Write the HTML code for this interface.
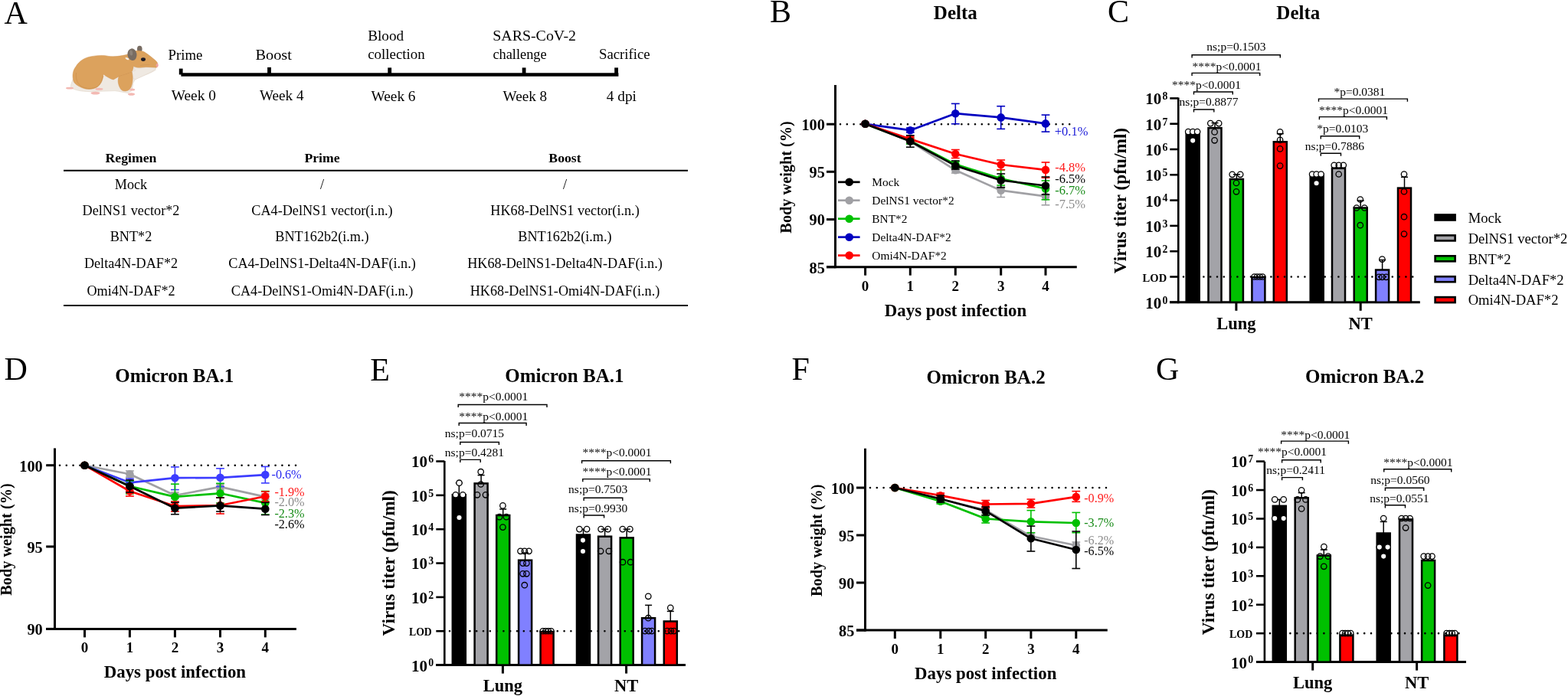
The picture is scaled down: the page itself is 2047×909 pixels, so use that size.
<!DOCTYPE html>
<html><head><meta charset="utf-8"><title>Figure</title>
<style>
html,body{margin:0;padding:0;background:#fff;}
body{width:2047px;height:909px;overflow:hidden;}
svg{display:block;font-family:"Liberation Serif", serif;}
</style></head><body>
<svg width="2047" height="909" viewBox="0 0 2047 909">
<rect width="2047" height="909" fill="#fff"/>
<text x="5.5" y="30.5" font-size="42">A</text>
<g>
<ellipse cx="182.3" cy="64" rx="3.3" ry="4.3" fill="#786c62"/>
<path d="M95.5,103 C93.5,108 91.5,112 93,115 C100,118.5 110,120 122,119.6 L150,118.6 C156,119.2 162,121 167,121.5 L172,118.5 L174,108 L176.5,103.7 C182,101 188,98.5 192,97 C197,95 201,93 203.5,91 L200,89 L174,87 L140,99 Z" fill="#efe9e2" stroke="#e0d5c8" stroke-width="0.6"/>
<path d="M96,106 C94,99 95,92 99,87 C103,80 110,75.5 118,74 C126,72.5 134,71.5 142,73.5 C150,74.5 158,73 165,71.5 C170,69.5 174,67 178.2,66.3 C181,66 184,66.5 186.4,67.1 C189,68 191.5,70 194.1,71.8 C197.5,74.5 201.5,77.5 204,80 C205.5,81.5 206.2,83.5 205.8,85.5 C205.4,87.3 204.5,88.3 203.5,88.8 C199,88.6 195,88 190.8,88 C187,88.3 184,88.8 182,88.8 C179,88.6 176.5,88 174.3,87.2 L172.3,94.2 C165,97 160,99 155,100 L148,104 C144,103 139,100 135,97 C134.5,104 132,110 127,113.5 C122,117 113,117.5 107,114.5 C101,112 97,109 96,106 Z" fill="#dca25d" stroke="#cf9250" stroke-width="0.5"/>
<path d="M99.5,95 C98.5,104 101.5,110 107,113.3 C113,116.3 121,116.3 127,113.3 C131,110.5 133.5,105 134.3,99" fill="none" stroke="#c98a46" stroke-width="1" opacity="0.55"/>
<path d="M174.3,87.2 C176.5,88 179,88.6 182,88.8 C184,88.8 187,88.3 190.8,88 C195,88 199,88.6 203.5,88.8 C203,90 202,91 200.5,92 C197,94.5 192,96.5 188,98.5 C184,100.5 180,102.5 176.5,103.7 L173.8,102 L172.1,93.8 L176.6,92.2 Z" fill="#efe9e2" stroke="#e0d5c8" stroke-width="0.5"/>
<path d="M155.4,99.6 C153.5,104 153.5,110 157.7,116.5 C160,119 163,119.5 166,118.5 C169,117.5 171,115 172,111 C173.5,106 173.5,100 172.3,94.2 C167,96 161,98 155.4,99.6 Z" fill="#dca25d" stroke="#cf9250" stroke-width="0.5"/>
<ellipse cx="166" cy="76.6" rx="2.6" ry="1.2" transform="rotate(25 166 76.6)" fill="#f4efe8"/>
<ellipse cx="172.5" cy="71.2" rx="6" ry="7.9" transform="rotate(-8 172.5 71.2)" fill="#786c62"/>
<ellipse cx="171.2" cy="69" rx="2" ry="3.6" transform="rotate(-8 171.2 69)" fill="#8d8278"/>
<ellipse cx="187" cy="77.6" rx="3" ry="2.4" fill="#1c1c28"/>
<path d="M184.5,74.6 Q187,73.4 189.5,74.6" fill="none" stroke="#c9a070" stroke-width="0.6"/>
<path d="M183,85.5 Q190,84.2 195.5,84.6" fill="none" stroke="#c88f50" stroke-width="0.45"/>
<ellipse cx="205.1" cy="85.2" rx="1.5" ry="2.5" fill="#f0a3a0"/>
<ellipse cx="91" cy="115.2" rx="5" ry="1.4" fill="#f3b9b3"/>
<ellipse cx="124.5" cy="121.6" rx="6" ry="1.9" fill="#f3b9b3"/>
<ellipse cx="129.5" cy="116.3" rx="5" ry="1.5" fill="#f3b9b3"/>
<ellipse cx="172.6" cy="117" rx="3.6" ry="1.6" fill="#f3b9b3"/>
<ellipse cx="171.5" cy="123" rx="4.5" ry="1.8" fill="#f3b9b3"/>
</g>
<line x1="236.4" y1="97.45" x2="807.4" y2="97.45" stroke="#000" stroke-width="4.5"/>
<rect x="233.8" y="89.6" width="4.8" height="7.85" fill="#000"/>
<rect x="349.1" y="87.9" width="4.8" height="9.55" fill="#000"/>
<rect x="506.3" y="88.4" width="4.8" height="9.05" fill="#000"/>
<rect x="681.7" y="88.4" width="4.8" height="9.05" fill="#000"/>
<rect x="802.2" y="88.4" width="4.8" height="9.05" fill="#000"/>
<text x="219.5" y="77.5" font-size="19" textLength="44.89" lengthAdjust="spacingAndGlyphs">Prime</text>
<text x="333.4" y="77.5" font-size="19" textLength="47.5" lengthAdjust="spacingAndGlyphs">Boost</text>
<text x="480.2" y="53.2" font-size="19" textLength="46.9" lengthAdjust="spacingAndGlyphs">Blood</text>
<text x="480.2" y="76.9" font-size="19" textLength="74.5" lengthAdjust="spacingAndGlyphs">collection</text>
<text x="643.2" y="53.2" font-size="19" textLength="108.8" lengthAdjust="spacingAndGlyphs">SARS-CoV-2</text>
<text x="643.4" y="76.9" font-size="19" textLength="70.3" lengthAdjust="spacingAndGlyphs">challenge</text>
<text x="782" y="76.9" font-size="19" textLength="66.7" lengthAdjust="spacingAndGlyphs">Sacrifice</text>
<text x="223.8" y="131.2" font-size="19" textLength="58.01" lengthAdjust="spacingAndGlyphs">Week 0</text>
<text x="339.1" y="131.2" font-size="19" textLength="57.41" lengthAdjust="spacingAndGlyphs">Week 4</text>
<text x="484.6" y="131.9" font-size="19" textLength="57.91" lengthAdjust="spacingAndGlyphs">Week 6</text>
<text x="656.6" y="131.9" font-size="19" textLength="57.61" lengthAdjust="spacingAndGlyphs">Week 8</text>
<text x="791.8" y="131.9" font-size="19" textLength="39.1" lengthAdjust="spacingAndGlyphs">4 dpi</text>
<line x1="83" y1="222.8" x2="898" y2="222.8" stroke="#000" stroke-width="2"/>
<line x1="83" y1="399" x2="898" y2="399" stroke="#000" stroke-width="2"/>
<text x="171" y="212.2" font-size="17.7" text-anchor="middle" font-weight="bold">Regimen</text>
<text x="420.5" y="212.2" font-size="17.7" text-anchor="middle" font-weight="bold">Prime</text>
<text x="737.5" y="212.2" font-size="17.7" text-anchor="middle" font-weight="bold">Boost</text>
<text x="171" y="246.6" font-size="18.2" text-anchor="middle">Mock</text>
<text x="420.5" y="246.6" font-size="18.2" text-anchor="middle">/</text>
<text x="737.5" y="246.6" font-size="18.2" text-anchor="middle">/</text>
<text x="171" y="280.9" font-size="18.2" text-anchor="middle">DelNS1 vector*2</text>
<text x="420.5" y="280.9" font-size="18.2" text-anchor="middle">CA4-DelNS1 vector(i.n.)</text>
<text x="737.5" y="280.9" font-size="18.2" text-anchor="middle">HK68-DelNS1 vector(i.n.)</text>
<text x="171" y="315.2" font-size="18.2" text-anchor="middle">BNT*2</text>
<text x="420.5" y="315.2" font-size="18.2" text-anchor="middle">BNT162b2(i.m.)</text>
<text x="737.5" y="315.2" font-size="18.2" text-anchor="middle">BNT162b2(i.m.)</text>
<text x="171" y="349.6" font-size="18.2" text-anchor="middle">Delta4N-DAF*2</text>
<text x="420.5" y="349.6" font-size="18.2" text-anchor="middle">CA4-DelNS1-Delta4N-DAF(i.n.)</text>
<text x="737.5" y="349.6" font-size="18.2" text-anchor="middle">HK68-DelNS1-Delta4N-DAF(i.n.)</text>
<text x="171" y="386" font-size="18.2" text-anchor="middle">Omi4N-DAF*2</text>
<text x="420.5" y="386" font-size="18.2" text-anchor="middle">CA4-DelNS1-Omi4N-DAF(i.n.)</text>
<text x="737.5" y="386" font-size="18.2" text-anchor="middle">HK68-DelNS1-Omi4N-DAF(i.n.)</text>
<line x1="1079" y1="162.2" x2="1090.5" y2="162.2" stroke="#000" stroke-width="3"/>
<text x="1076.8" y="170" font-size="20.3" text-anchor="end" font-weight="bold">100</text>
<line x1="1079" y1="224.3" x2="1090.5" y2="224.3" stroke="#000" stroke-width="3"/>
<text x="1076.8" y="232.1" font-size="20.3" text-anchor="end" font-weight="bold">95</text>
<line x1="1079" y1="286.6" x2="1090.5" y2="286.6" stroke="#000" stroke-width="3"/>
<text x="1076.8" y="294.4" font-size="20.3" text-anchor="end" font-weight="bold">90</text>
<line x1="1079" y1="348.7" x2="1090.5" y2="348.7" stroke="#000" stroke-width="3"/>
<text x="1076.8" y="356.5" font-size="20.3" text-anchor="end" font-weight="bold">85</text>
<line x1="1090.5" y1="111" x2="1090.5" y2="350.2" stroke="#000" stroke-width="3"/>
<line x1="1079" y1="348.7" x2="1405.8" y2="348.7" stroke="#000" stroke-width="3"/>
<line x1="1129.6" y1="348.7" x2="1129.6" y2="359.7" stroke="#000" stroke-width="3"/>
<text x="1129.6" y="379.5" font-size="19" text-anchor="middle" font-weight="bold">0</text>
<line x1="1188.3" y1="348.7" x2="1188.3" y2="359.7" stroke="#000" stroke-width="3"/>
<text x="1188.3" y="379.5" font-size="19" text-anchor="middle" font-weight="bold">1</text>
<line x1="1247.3" y1="348.7" x2="1247.3" y2="359.7" stroke="#000" stroke-width="3"/>
<text x="1247.3" y="379.5" font-size="19" text-anchor="middle" font-weight="bold">2</text>
<line x1="1306.7" y1="348.7" x2="1306.7" y2="359.7" stroke="#000" stroke-width="3"/>
<text x="1306.7" y="379.5" font-size="19" text-anchor="middle" font-weight="bold">3</text>
<line x1="1365" y1="348.7" x2="1365" y2="359.7" stroke="#000" stroke-width="3"/>
<text x="1365" y="379.5" font-size="19" text-anchor="middle" font-weight="bold">4</text>
<text x="1247.5" y="413.3" font-size="22.85" text-anchor="middle" font-weight="bold">Days post infection</text>
<text x="1033.4" y="231.4" font-size="20.3" text-anchor="middle" font-weight="bold" transform="rotate(-90 1033.4 231.4)">Body weight (%)</text>
<text x="1247.3" y="25" font-size="25" text-anchor="middle" font-weight="bold">Delta</text>
<text x="1005" y="29" font-size="42">B</text>
<line x1="1097" y1="162.2" x2="1402" y2="162.2" stroke="#000" stroke-width="2.6" stroke-linecap="round" stroke-dasharray="0 8.8"/>
<line x1="1188.3" y1="181" x2="1188.3" y2="188" stroke="#a0a0a4" stroke-width="1.6"/>
<line x1="1182.9" y1="181" x2="1193.7" y2="181" stroke="#a0a0a4" stroke-width="1.6"/>
<line x1="1182.9" y1="188" x2="1193.7" y2="188" stroke="#a0a0a4" stroke-width="1.6"/>
<line x1="1247.3" y1="218" x2="1247.3" y2="226" stroke="#a0a0a4" stroke-width="1.6"/>
<line x1="1241.9" y1="218" x2="1252.7" y2="218" stroke="#a0a0a4" stroke-width="1.6"/>
<line x1="1241.9" y1="226" x2="1252.7" y2="226" stroke="#a0a0a4" stroke-width="1.6"/>
<line x1="1306.7" y1="244" x2="1306.7" y2="257.5" stroke="#a0a0a4" stroke-width="1.6"/>
<line x1="1301.3" y1="244" x2="1312.1" y2="244" stroke="#a0a0a4" stroke-width="1.6"/>
<line x1="1301.3" y1="257.5" x2="1312.1" y2="257.5" stroke="#a0a0a4" stroke-width="1.6"/>
<line x1="1365" y1="246" x2="1365" y2="267.8" stroke="#a0a0a4" stroke-width="1.6"/>
<line x1="1359.6" y1="246" x2="1370.4" y2="246" stroke="#a0a0a4" stroke-width="1.6"/>
<line x1="1359.6" y1="267.8" x2="1370.4" y2="267.8" stroke="#a0a0a4" stroke-width="1.6"/>
<polyline points="1129.6,161.8 1188.3,184.5 1247.3,222.3 1306.7,248.7 1365,256.4" fill="none" stroke="#a0a0a4" stroke-width="2.7" stroke-linejoin="round"/>
<circle cx="1129.6" cy="161.8" r="5.3" fill="#a0a0a4"/>
<circle cx="1188.3" cy="184.5" r="5.3" fill="#a0a0a4"/>
<circle cx="1247.3" cy="222.3" r="5.3" fill="#a0a0a4"/>
<circle cx="1306.7" cy="248.7" r="5.3" fill="#a0a0a4"/>
<circle cx="1365" cy="256.4" r="5.3" fill="#a0a0a4"/>
<line x1="1188.3" y1="180" x2="1188.3" y2="188" stroke="#00c000" stroke-width="1.6"/>
<line x1="1182.9" y1="180" x2="1193.7" y2="180" stroke="#00c000" stroke-width="1.6"/>
<line x1="1182.9" y1="188" x2="1193.7" y2="188" stroke="#00c000" stroke-width="1.6"/>
<line x1="1247.3" y1="211" x2="1247.3" y2="219" stroke="#00c000" stroke-width="1.6"/>
<line x1="1241.9" y1="211" x2="1252.7" y2="211" stroke="#00c000" stroke-width="1.6"/>
<line x1="1241.9" y1="219" x2="1252.7" y2="219" stroke="#00c000" stroke-width="1.6"/>
<line x1="1306.7" y1="222" x2="1306.7" y2="242" stroke="#00c000" stroke-width="1.6"/>
<line x1="1301.3" y1="222" x2="1312.1" y2="222" stroke="#00c000" stroke-width="1.6"/>
<line x1="1301.3" y1="242" x2="1312.1" y2="242" stroke="#00c000" stroke-width="1.6"/>
<line x1="1365" y1="236" x2="1365" y2="260.8" stroke="#00c000" stroke-width="1.6"/>
<line x1="1359.6" y1="236" x2="1370.4" y2="236" stroke="#00c000" stroke-width="1.6"/>
<line x1="1359.6" y1="260.8" x2="1370.4" y2="260.8" stroke="#00c000" stroke-width="1.6"/>
<polyline points="1129.6,161.8 1188.3,184 1247.3,214.6 1306.7,233.3 1365,246.5" fill="none" stroke="#00c000" stroke-width="2.7" stroke-linejoin="round"/>
<circle cx="1129.6" cy="161.8" r="5.3" fill="#00c000"/>
<circle cx="1188.3" cy="184" r="5.3" fill="#00c000"/>
<circle cx="1247.3" cy="214.6" r="5.3" fill="#00c000"/>
<circle cx="1306.7" cy="233.3" r="5.3" fill="#00c000"/>
<circle cx="1365" cy="246.5" r="5.3" fill="#00c000"/>
<line x1="1188.3" y1="167" x2="1188.3" y2="173" stroke="#0000c0" stroke-width="1.6"/>
<line x1="1182.9" y1="167" x2="1193.7" y2="167" stroke="#0000c0" stroke-width="1.6"/>
<line x1="1182.9" y1="173" x2="1193.7" y2="173" stroke="#0000c0" stroke-width="1.6"/>
<line x1="1247.3" y1="135.4" x2="1247.3" y2="161.8" stroke="#0000c0" stroke-width="1.6"/>
<line x1="1241.9" y1="135.4" x2="1252.7" y2="135.4" stroke="#0000c0" stroke-width="1.6"/>
<line x1="1241.9" y1="161.8" x2="1252.7" y2="161.8" stroke="#0000c0" stroke-width="1.6"/>
<line x1="1306.7" y1="138.7" x2="1306.7" y2="168.4" stroke="#0000c0" stroke-width="1.6"/>
<line x1="1301.3" y1="138.7" x2="1312.1" y2="138.7" stroke="#0000c0" stroke-width="1.6"/>
<line x1="1301.3" y1="168.4" x2="1312.1" y2="168.4" stroke="#0000c0" stroke-width="1.6"/>
<line x1="1365" y1="150.1" x2="1365" y2="172.1" stroke="#0000c0" stroke-width="1.6"/>
<line x1="1359.6" y1="150.1" x2="1370.4" y2="150.1" stroke="#0000c0" stroke-width="1.6"/>
<line x1="1359.6" y1="172.1" x2="1370.4" y2="172.1" stroke="#0000c0" stroke-width="1.6"/>
<polyline points="1129.6,161.8 1188.3,170.2 1247.3,148.2 1306.7,153.4 1365,161.4" fill="none" stroke="#0000c0" stroke-width="2.7" stroke-linejoin="round"/>
<circle cx="1129.6" cy="161.8" r="5.3" fill="#0000c0"/>
<circle cx="1188.3" cy="170.2" r="5.3" fill="#0000c0"/>
<circle cx="1247.3" cy="148.2" r="5.3" fill="#0000c0"/>
<circle cx="1306.7" cy="153.4" r="5.3" fill="#0000c0"/>
<circle cx="1365" cy="161.4" r="5.3" fill="#0000c0"/>
<line x1="1188.3" y1="178" x2="1188.3" y2="185" stroke="#ff0000" stroke-width="1.6"/>
<line x1="1182.9" y1="178" x2="1193.7" y2="178" stroke="#ff0000" stroke-width="1.6"/>
<line x1="1182.9" y1="185" x2="1193.7" y2="185" stroke="#ff0000" stroke-width="1.6"/>
<line x1="1247.3" y1="195.5" x2="1247.3" y2="206.5" stroke="#ff0000" stroke-width="1.6"/>
<line x1="1241.9" y1="195.5" x2="1252.7" y2="195.5" stroke="#ff0000" stroke-width="1.6"/>
<line x1="1241.9" y1="206.5" x2="1252.7" y2="206.5" stroke="#ff0000" stroke-width="1.6"/>
<line x1="1306.7" y1="209" x2="1306.7" y2="221.6" stroke="#ff0000" stroke-width="1.6"/>
<line x1="1301.3" y1="209" x2="1312.1" y2="209" stroke="#ff0000" stroke-width="1.6"/>
<line x1="1301.3" y1="221.6" x2="1312.1" y2="221.6" stroke="#ff0000" stroke-width="1.6"/>
<line x1="1365" y1="212" x2="1365" y2="232.2" stroke="#ff0000" stroke-width="1.6"/>
<line x1="1359.6" y1="212" x2="1370.4" y2="212" stroke="#ff0000" stroke-width="1.6"/>
<line x1="1359.6" y1="232.2" x2="1370.4" y2="232.2" stroke="#ff0000" stroke-width="1.6"/>
<polyline points="1129.6,161.8 1188.3,181.6 1247.3,201 1306.7,215 1365,221.9" fill="none" stroke="#ff0000" stroke-width="2.7" stroke-linejoin="round"/>
<circle cx="1129.6" cy="161.8" r="5.3" fill="#ff0000"/>
<circle cx="1188.3" cy="181.6" r="5.3" fill="#ff0000"/>
<circle cx="1247.3" cy="201" r="5.3" fill="#ff0000"/>
<circle cx="1306.7" cy="215" r="5.3" fill="#ff0000"/>
<circle cx="1365" cy="221.9" r="5.3" fill="#ff0000"/>
<line x1="1188.3" y1="176.8" x2="1188.3" y2="192.2" stroke="#000000" stroke-width="1.6"/>
<line x1="1182.9" y1="176.8" x2="1193.7" y2="176.8" stroke="#000000" stroke-width="1.6"/>
<line x1="1182.9" y1="192.2" x2="1193.7" y2="192.2" stroke="#000000" stroke-width="1.6"/>
<line x1="1247.3" y1="210" x2="1247.3" y2="221" stroke="#000000" stroke-width="1.6"/>
<line x1="1241.9" y1="210" x2="1252.7" y2="210" stroke="#000000" stroke-width="1.6"/>
<line x1="1241.9" y1="221" x2="1252.7" y2="221" stroke="#000000" stroke-width="1.6"/>
<line x1="1306.7" y1="227" x2="1306.7" y2="245" stroke="#000000" stroke-width="1.6"/>
<line x1="1301.3" y1="227" x2="1312.1" y2="227" stroke="#000000" stroke-width="1.6"/>
<line x1="1301.3" y1="245" x2="1312.1" y2="245" stroke="#000000" stroke-width="1.6"/>
<line x1="1365" y1="231" x2="1365" y2="254" stroke="#000000" stroke-width="1.6"/>
<line x1="1359.6" y1="231" x2="1370.4" y2="231" stroke="#000000" stroke-width="1.6"/>
<line x1="1359.6" y1="254" x2="1370.4" y2="254" stroke="#000000" stroke-width="1.6"/>
<polyline points="1129.6,161.8 1188.3,184.5 1247.3,216.4 1306.7,235.5 1365,242.5" fill="none" stroke="#000000" stroke-width="2.7" stroke-linejoin="round"/>
<circle cx="1129.6" cy="161.8" r="5.3" fill="#000000"/>
<circle cx="1188.3" cy="184.5" r="5.3" fill="#000000"/>
<circle cx="1247.3" cy="216.4" r="5.3" fill="#000000"/>
<circle cx="1306.7" cy="235.5" r="5.3" fill="#000000"/>
<circle cx="1365" cy="242.5" r="5.3" fill="#000000"/>
<text x="1376.8" y="176.5" font-size="16.5" fill="#1a1ad8">+0.1%</text>
<text x="1377.2" y="224.4" font-size="16.5" fill="#ff1a1a">-4.8%</text>
<text x="1377.2" y="238.7" font-size="16.5">-6.5%</text>
<text x="1377.2" y="254" font-size="16.5" fill="#1a8c1a">-6.7%</text>
<text x="1377.2" y="271.6" font-size="16.5" fill="#8c8c8c">-7.5%</text>
<line x1="1094" y1="237.8" x2="1122.6" y2="237.8" stroke="#000000" stroke-width="2.7"/>
<circle cx="1108.7" cy="237.8" r="5.3" fill="#000000"/>
<text x="1138.3" y="243" font-size="15.4">Mock</text>
<line x1="1094" y1="261.7" x2="1122.6" y2="261.7" stroke="#a0a0a4" stroke-width="2.7"/>
<circle cx="1108.7" cy="261.7" r="5.3" fill="#a0a0a4"/>
<text x="1138.3" y="266.9" font-size="15.4">DelNS1 vector*2</text>
<line x1="1094" y1="285.7" x2="1122.6" y2="285.7" stroke="#00c000" stroke-width="2.7"/>
<circle cx="1108.7" cy="285.7" r="5.3" fill="#00c000"/>
<text x="1138.3" y="290.9" font-size="15.4">BNT*2</text>
<line x1="1094" y1="309.7" x2="1122.6" y2="309.7" stroke="#0000c0" stroke-width="2.7"/>
<circle cx="1108.7" cy="309.7" r="5.3" fill="#0000c0"/>
<text x="1138.3" y="314.9" font-size="15.4">Delta4N-DAF*2</text>
<line x1="1094" y1="333.6" x2="1122.6" y2="333.6" stroke="#ff0000" stroke-width="2.7"/>
<circle cx="1108.7" cy="333.6" r="5.3" fill="#ff0000"/>
<text x="1138.3" y="338.8" font-size="15.4">Omi4N-DAF*2</text>
<line x1="1538.3" y1="127.5" x2="1538.3" y2="396.3" stroke="#000" stroke-width="2.6"/>
<line x1="1527" y1="394.8" x2="1853.8" y2="394.8" stroke="#000" stroke-width="3"/>
<line x1="1527.3" y1="394.8" x2="1538.3" y2="394.8" stroke="#000" stroke-width="2.6"/>
<text x="1516.2" y="402.7" font-size="21" text-anchor="end" font-weight="bold">10</text>
<text x="1517.4" y="396.6" font-size="13.8" font-weight="bold">0</text>
<line x1="1527.3" y1="361.5" x2="1538.3" y2="361.5" stroke="#000" stroke-width="2.6"/>
<text x="1523.2" y="367.5" font-size="15" text-anchor="end" font-weight="bold" textLength="31.6" lengthAdjust="spacingAndGlyphs">LOD</text>
<line x1="1527.3" y1="328.2" x2="1538.3" y2="328.2" stroke="#000" stroke-width="2.6"/>
<text x="1516.2" y="336.1" font-size="21" text-anchor="end" font-weight="bold">10</text>
<text x="1517.4" y="330" font-size="13.8" font-weight="bold">2</text>
<line x1="1527.3" y1="294.9" x2="1538.3" y2="294.9" stroke="#000" stroke-width="2.6"/>
<text x="1516.2" y="302.8" font-size="21" text-anchor="end" font-weight="bold">10</text>
<text x="1517.4" y="296.7" font-size="13.8" font-weight="bold">3</text>
<line x1="1527.3" y1="261.6" x2="1538.3" y2="261.6" stroke="#000" stroke-width="2.6"/>
<text x="1516.2" y="269.5" font-size="21" text-anchor="end" font-weight="bold">10</text>
<text x="1517.4" y="263.4" font-size="13.8" font-weight="bold">4</text>
<line x1="1527.3" y1="228.3" x2="1538.3" y2="228.3" stroke="#000" stroke-width="2.6"/>
<text x="1516.2" y="236.2" font-size="21" text-anchor="end" font-weight="bold">10</text>
<text x="1517.4" y="230.1" font-size="13.8" font-weight="bold">5</text>
<line x1="1527.3" y1="195" x2="1538.3" y2="195" stroke="#000" stroke-width="2.6"/>
<text x="1516.2" y="202.9" font-size="21" text-anchor="end" font-weight="bold">10</text>
<text x="1517.4" y="196.8" font-size="13.8" font-weight="bold">6</text>
<line x1="1527.3" y1="161.7" x2="1538.3" y2="161.7" stroke="#000" stroke-width="2.6"/>
<text x="1516.2" y="169.6" font-size="21" text-anchor="end" font-weight="bold">10</text>
<text x="1517.4" y="163.5" font-size="13.8" font-weight="bold">7</text>
<line x1="1527.3" y1="128.4" x2="1538.3" y2="128.4" stroke="#000" stroke-width="2.6"/>
<text x="1516.2" y="136.3" font-size="21" text-anchor="end" font-weight="bold">10</text>
<text x="1517.4" y="130.2" font-size="13.8" font-weight="bold">8</text>
<line x1="1613.9" y1="394.8" x2="1613.9" y2="405.8" stroke="#000" stroke-width="3"/>
<text x="1613.9" y="429.6" font-size="22.5" text-anchor="middle" font-weight="bold">Lung</text>
<line x1="1776.2" y1="394.8" x2="1776.2" y2="405.8" stroke="#000" stroke-width="3"/>
<text x="1776.2" y="429.6" font-size="22.5" text-anchor="middle" font-weight="bold">NT</text>
<text x="1470" y="262" font-size="23.3" text-anchor="middle" font-weight="bold" transform="rotate(-90 1470 262)">Virus titer (pfu/ml)</text>
<text x="1694.8" y="25.2" font-size="25" text-anchor="middle" font-weight="bold">Delta</text>
<text x="1446" y="29" font-size="42">C</text>
<rect x="1548.7" y="172.5" width="17" height="222.3" fill="#000000" stroke="#000" stroke-width="2.5"/>
<circle cx="1551.2" cy="172.1" r="3.7" fill="#fff" stroke="#000" stroke-width="1.3"/>
<circle cx="1557.2" cy="172.1" r="3.7" fill="#fff" stroke="#000" stroke-width="1.3"/>
<circle cx="1563.1" cy="172.1" r="3.7" fill="#fff" stroke="#000" stroke-width="1.3"/>
<circle cx="1557.2" cy="183.6" r="3.7" fill="#fff" stroke="#000" stroke-width="1.3"/>
<rect x="1577.5" y="167.1" width="17" height="227.7" fill="#a3a3a8" stroke="#000" stroke-width="2.5"/>
<line x1="1586" y1="167.1" x2="1586" y2="160.5" stroke="#000" stroke-width="1.5"/>
<line x1="1581.5" y1="160.5" x2="1590.5" y2="160.5" stroke="#000" stroke-width="1.5"/>
<circle cx="1580.3" cy="161.1" r="3.7" fill="none" stroke="#000" stroke-width="1.3"/>
<circle cx="1591.2" cy="161.1" r="3.7" fill="none" stroke="#000" stroke-width="1.3"/>
<circle cx="1585.6" cy="172.4" r="3.7" fill="none" stroke="#000" stroke-width="1.3"/>
<circle cx="1585.6" cy="183.3" r="3.7" fill="none" stroke="#000" stroke-width="1.3"/>
<rect x="1605.9" y="234" width="17" height="160.8" fill="#00c000" stroke="#000" stroke-width="2.5"/>
<line x1="1614.4" y1="234" x2="1614.4" y2="227.8" stroke="#000" stroke-width="1.5"/>
<line x1="1609.9" y1="227.8" x2="1618.9" y2="227.8" stroke="#000" stroke-width="1.5"/>
<circle cx="1608.7" cy="227.8" r="3.7" fill="none" stroke="#000" stroke-width="1.3"/>
<circle cx="1619.2" cy="227.8" r="3.7" fill="none" stroke="#000" stroke-width="1.3"/>
<circle cx="1614" cy="239" r="3.7" fill="none" stroke="#000" stroke-width="1.3"/>
<circle cx="1614" cy="250.3" r="3.7" fill="none" stroke="#000" stroke-width="1.3"/>
<rect x="1634.4" y="362" width="17" height="32.8" fill="#8080ff" stroke="#000" stroke-width="2.5"/>
<circle cx="1637.5" cy="361.5" r="3.7" fill="none" stroke="#000" stroke-width="1.3"/>
<circle cx="1641.1" cy="361.5" r="3.7" fill="none" stroke="#000" stroke-width="1.3"/>
<circle cx="1644.7" cy="361.5" r="3.7" fill="none" stroke="#000" stroke-width="1.3"/>
<circle cx="1648.3" cy="361.5" r="3.7" fill="none" stroke="#000" stroke-width="1.3"/>
<rect x="1662.8" y="185.3" width="17" height="209.5" fill="#ff0000" stroke="#000" stroke-width="2.5"/>
<line x1="1671.3" y1="185.3" x2="1671.3" y2="174.6" stroke="#000" stroke-width="1.5"/>
<line x1="1666.8" y1="174.6" x2="1675.8" y2="174.6" stroke="#000" stroke-width="1.5"/>
<circle cx="1671.1" cy="172.4" r="3.7" fill="none" stroke="#000" stroke-width="1.3"/>
<circle cx="1671.1" cy="182.9" r="3.7" fill="none" stroke="#000" stroke-width="1.3"/>
<circle cx="1671.1" cy="194.4" r="3.7" fill="none" stroke="#000" stroke-width="1.3"/>
<circle cx="1671.1" cy="216.6" r="3.7" fill="none" stroke="#000" stroke-width="1.3"/>
<rect x="1710.7" y="227.5" width="17" height="167.3" fill="#000000" stroke="#000" stroke-width="2.5"/>
<circle cx="1713.1" cy="227.5" r="3.7" fill="#fff" stroke="#000" stroke-width="1.3"/>
<circle cx="1718.6" cy="227.5" r="3.7" fill="#fff" stroke="#000" stroke-width="1.3"/>
<circle cx="1724.6" cy="227.5" r="3.7" fill="#fff" stroke="#000" stroke-width="1.3"/>
<circle cx="1718.6" cy="239.2" r="3.7" fill="#fff" stroke="#000" stroke-width="1.3"/>
<rect x="1739" y="219.8" width="17" height="175" fill="#a3a3a8" stroke="#000" stroke-width="2.5"/>
<circle cx="1741.7" cy="215.8" r="3.7" fill="none" stroke="#000" stroke-width="1.3"/>
<circle cx="1747.7" cy="215.8" r="3.7" fill="none" stroke="#000" stroke-width="1.3"/>
<circle cx="1753.8" cy="215.8" r="3.7" fill="none" stroke="#000" stroke-width="1.3"/>
<circle cx="1747.7" cy="227.5" r="3.7" fill="none" stroke="#000" stroke-width="1.3"/>
<rect x="1767.7" y="271.5" width="17" height="123.3" fill="#00c000" stroke="#000" stroke-width="2.5"/>
<line x1="1776.2" y1="271.5" x2="1776.2" y2="262" stroke="#000" stroke-width="1.5"/>
<line x1="1771.7" y1="262" x2="1780.7" y2="262" stroke="#000" stroke-width="1.5"/>
<circle cx="1771" cy="271.5" r="3.7" fill="none" stroke="#000" stroke-width="1.3"/>
<circle cx="1781.3" cy="271.5" r="3.7" fill="none" stroke="#000" stroke-width="1.3"/>
<circle cx="1775.8" cy="260.5" r="3.7" fill="none" stroke="#000" stroke-width="1.3"/>
<circle cx="1775.8" cy="294.2" r="3.7" fill="none" stroke="#000" stroke-width="1.3"/>
<rect x="1796.1" y="352.5" width="17" height="42.3" fill="#8080ff" stroke="#000" stroke-width="2.5"/>
<line x1="1804.6" y1="352.5" x2="1804.6" y2="339.5" stroke="#000" stroke-width="1.5"/>
<line x1="1800.1" y1="339.5" x2="1809.1" y2="339.5" stroke="#000" stroke-width="1.5"/>
<circle cx="1804.4" cy="338.6" r="3.7" fill="none" stroke="#000" stroke-width="1.3"/>
<circle cx="1800.2" cy="361.8" r="3.7" fill="none" stroke="#000" stroke-width="1.3"/>
<circle cx="1804.4" cy="361.8" r="3.7" fill="none" stroke="#000" stroke-width="1.3"/>
<circle cx="1809.6" cy="361.8" r="3.7" fill="none" stroke="#000" stroke-width="1.3"/>
<rect x="1825" y="245.6" width="17" height="149.2" fill="#ff0000" stroke="#000" stroke-width="2.5"/>
<line x1="1833.5" y1="245.6" x2="1833.5" y2="231.3" stroke="#000" stroke-width="1.5"/>
<line x1="1829" y1="231.3" x2="1838" y2="231.3" stroke="#000" stroke-width="1.5"/>
<circle cx="1833" cy="227.5" r="3.7" fill="none" stroke="#000" stroke-width="1.3"/>
<circle cx="1833" cy="250.2" r="3.7" fill="none" stroke="#000" stroke-width="1.3"/>
<circle cx="1833" cy="283.2" r="3.7" fill="none" stroke="#000" stroke-width="1.3"/>
<circle cx="1833" cy="305.6" r="3.7" fill="none" stroke="#000" stroke-width="1.3"/>
<line x1="1545" y1="361.5" x2="1852" y2="361.5" stroke="#000" stroke-width="2.6" stroke-linecap="round" stroke-dasharray="0 8.8"/>
<path d="M1556.1 75.4V71.8H1671.3V75.4" fill="none" stroke="#000" stroke-width="1.4"/>
<text x="1575.3" y="66.3" font-size="15.5">ns;p=0.1503</text>
<path d="M1556.1 99V95.4H1644.7V99" fill="none" stroke="#000" stroke-width="1.4"/>
<text x="1556.5" y="91.8" font-size="15.5">****p&lt;0.0001</text>
<path d="M1558.5 123.6V120H1609.3V123.6" fill="none" stroke="#000" stroke-width="1.4"/>
<text x="1529.9" y="116.3" font-size="15.5">****p&lt;0.0001</text>
<path d="M1558.5 146.6V143H1584.8V146.6" fill="none" stroke="#000" stroke-width="1.4"/>
<text x="1539.4" y="138.4" font-size="15.5">ns;p=0.8877</text>
<path d="M1721.5 132.7V129.1H1837.4V132.7" fill="none" stroke="#000" stroke-width="1.4"/>
<text x="1741.5" y="124.5" font-size="15.5">*p=0.0381</text>
<path d="M1722.4 156.2V152.6H1810.4V156.2" fill="none" stroke="#000" stroke-width="1.4"/>
<text x="1722" y="149.3" font-size="15.5">****p&lt;0.0001</text>
<path d="M1724.3 181.4V177.8H1774.7V181.4" fill="none" stroke="#000" stroke-width="1.4"/>
<text x="1719.3" y="172.7" font-size="15.5">*p=0.0103</text>
<path d="M1724.3 203.8V200.2H1750.5V203.8" fill="none" stroke="#000" stroke-width="1.4"/>
<text x="1703.7" y="196.2" font-size="15.5">ns;p=0.7886</text>
<rect x="1873.6" y="280.5" width="26" height="7" fill="#000000" stroke="#000" stroke-width="2.6"/>
<text x="1916.7" y="290.8" font-size="18.6">Mock</text>
<rect x="1873.6" y="307.4" width="26" height="7" fill="#a3a3a8" stroke="#000" stroke-width="2.6"/>
<text x="1916.7" y="317.7" font-size="18.6">DelNS1 vector*2</text>
<rect x="1873.6" y="334.3" width="26" height="7" fill="#00c000" stroke="#000" stroke-width="2.6"/>
<text x="1916.7" y="344.6" font-size="18.6">BNT*2</text>
<rect x="1873.6" y="361.2" width="26" height="7" fill="#8080ff" stroke="#000" stroke-width="2.6"/>
<text x="1916.7" y="371.5" font-size="18.6">Delta4N-DAF*2</text>
<rect x="1873.6" y="388.1" width="26" height="7" fill="#ff0000" stroke="#000" stroke-width="2.6"/>
<text x="1916.7" y="398.4" font-size="18.6">Omi4N-DAF*2</text>
<line x1="60.2" y1="607.7" x2="71.5" y2="607.7" stroke="#000" stroke-width="3"/>
<text x="55.7" y="615.5" font-size="20.3" text-anchor="end" font-weight="bold">100</text>
<line x1="60.2" y1="713.9" x2="71.5" y2="713.9" stroke="#000" stroke-width="3"/>
<text x="55.7" y="721.7" font-size="20.3" text-anchor="end" font-weight="bold">95</text>
<line x1="60.2" y1="821.4" x2="71.5" y2="821.4" stroke="#000" stroke-width="3"/>
<text x="55.7" y="829.2" font-size="20.3" text-anchor="end" font-weight="bold">90</text>
<line x1="71.5" y1="585.4" x2="71.5" y2="822.9" stroke="#000" stroke-width="3"/>
<line x1="60.2" y1="821.4" x2="386.9" y2="821.4" stroke="#000" stroke-width="3"/>
<line x1="110.5" y1="821.4" x2="110.5" y2="832.4" stroke="#000" stroke-width="3"/>
<text x="110.5" y="852.2" font-size="19" text-anchor="middle" font-weight="bold">0</text>
<line x1="169.4" y1="821.4" x2="169.4" y2="832.4" stroke="#000" stroke-width="3"/>
<text x="169.4" y="852.2" font-size="19" text-anchor="middle" font-weight="bold">1</text>
<line x1="228.4" y1="821.4" x2="228.4" y2="832.4" stroke="#000" stroke-width="3"/>
<text x="228.4" y="852.2" font-size="19" text-anchor="middle" font-weight="bold">2</text>
<line x1="287.5" y1="821.4" x2="287.5" y2="832.4" stroke="#000" stroke-width="3"/>
<text x="287.5" y="852.2" font-size="19" text-anchor="middle" font-weight="bold">3</text>
<line x1="346.3" y1="821.4" x2="346.3" y2="832.4" stroke="#000" stroke-width="3"/>
<text x="346.3" y="852.2" font-size="19" text-anchor="middle" font-weight="bold">4</text>
<text x="228.4" y="885" font-size="22.85" text-anchor="middle" font-weight="bold">Days post infection</text>
<text x="14.6" y="704.5" font-size="20.3" text-anchor="middle" font-weight="bold" transform="rotate(-90 14.6 704.5)">Body weight (%)</text>
<text x="227.8" y="499" font-size="25" text-anchor="middle" font-weight="bold">Omicron BA.1</text>
<text x="5.5" y="496" font-size="42">D</text>
<line x1="78" y1="607.7" x2="388" y2="607.7" stroke="#000" stroke-width="2.6" stroke-linecap="round" stroke-dasharray="0 8.8"/>
<line x1="169.4" y1="615" x2="169.4" y2="623" stroke="#a0a0a4" stroke-width="1.6"/>
<line x1="164" y1="615" x2="174.8" y2="615" stroke="#a0a0a4" stroke-width="1.6"/>
<line x1="164" y1="623" x2="174.8" y2="623" stroke="#a0a0a4" stroke-width="1.6"/>
<line x1="228.4" y1="643" x2="228.4" y2="651" stroke="#a0a0a4" stroke-width="1.6"/>
<line x1="223" y1="643" x2="233.8" y2="643" stroke="#a0a0a4" stroke-width="1.6"/>
<line x1="223" y1="651" x2="233.8" y2="651" stroke="#a0a0a4" stroke-width="1.6"/>
<line x1="287.5" y1="632" x2="287.5" y2="640" stroke="#a0a0a4" stroke-width="1.6"/>
<line x1="282.1" y1="632" x2="292.9" y2="632" stroke="#a0a0a4" stroke-width="1.6"/>
<line x1="282.1" y1="640" x2="292.9" y2="640" stroke="#a0a0a4" stroke-width="1.6"/>
<line x1="346.3" y1="645" x2="346.3" y2="652" stroke="#a0a0a4" stroke-width="1.6"/>
<line x1="340.9" y1="645" x2="351.7" y2="645" stroke="#a0a0a4" stroke-width="1.6"/>
<line x1="340.9" y1="652" x2="351.7" y2="652" stroke="#a0a0a4" stroke-width="1.6"/>
<polyline points="110.5,607.7 169.4,619.2 228.4,647 287.5,635.9 346.3,648.9" fill="none" stroke="#a0a0a4" stroke-width="2.7" stroke-linejoin="round"/>
<circle cx="110.5" cy="607.7" r="5.3" fill="#a0a0a4"/>
<circle cx="169.4" cy="619.2" r="5.3" fill="#a0a0a4"/>
<circle cx="228.4" cy="647" r="5.3" fill="#a0a0a4"/>
<circle cx="287.5" cy="635.9" r="5.3" fill="#a0a0a4"/>
<circle cx="346.3" cy="648.9" r="5.3" fill="#a0a0a4"/>
<line x1="169.4" y1="625" x2="169.4" y2="634" stroke="#3c3cff" stroke-width="1.6"/>
<line x1="164" y1="625" x2="174.8" y2="625" stroke="#3c3cff" stroke-width="1.6"/>
<line x1="164" y1="634" x2="174.8" y2="634" stroke="#3c3cff" stroke-width="1.6"/>
<line x1="228.4" y1="609.9" x2="228.4" y2="639.6" stroke="#3c3cff" stroke-width="1.6"/>
<line x1="223" y1="609.9" x2="233.8" y2="609.9" stroke="#3c3cff" stroke-width="1.6"/>
<line x1="223" y1="639.6" x2="233.8" y2="639.6" stroke="#3c3cff" stroke-width="1.6"/>
<line x1="287.5" y1="611.8" x2="287.5" y2="635.5" stroke="#3c3cff" stroke-width="1.6"/>
<line x1="282.1" y1="611.8" x2="292.9" y2="611.8" stroke="#3c3cff" stroke-width="1.6"/>
<line x1="282.1" y1="635.5" x2="292.9" y2="635.5" stroke="#3c3cff" stroke-width="1.6"/>
<line x1="346.3" y1="609.4" x2="346.3" y2="630.9" stroke="#3c3cff" stroke-width="1.6"/>
<line x1="340.9" y1="609.4" x2="351.7" y2="609.4" stroke="#3c3cff" stroke-width="1.6"/>
<line x1="340.9" y1="630.9" x2="351.7" y2="630.9" stroke="#3c3cff" stroke-width="1.6"/>
<polyline points="110.5,607.7 169.4,630.3 228.4,624.2 287.5,623.8 346.3,620.1" fill="none" stroke="#3c3cff" stroke-width="2.7" stroke-linejoin="round"/>
<circle cx="110.5" cy="607.7" r="5.3" fill="#3c3cff"/>
<circle cx="169.4" cy="630.3" r="5.3" fill="#3c3cff"/>
<circle cx="228.4" cy="624.2" r="5.3" fill="#3c3cff"/>
<circle cx="287.5" cy="623.8" r="5.3" fill="#3c3cff"/>
<circle cx="346.3" cy="620.1" r="5.3" fill="#3c3cff"/>
<line x1="169.4" y1="628" x2="169.4" y2="645" stroke="#00c000" stroke-width="1.6"/>
<line x1="164" y1="628" x2="174.8" y2="628" stroke="#00c000" stroke-width="1.6"/>
<line x1="164" y1="645" x2="174.8" y2="645" stroke="#00c000" stroke-width="1.6"/>
<line x1="228.4" y1="632.2" x2="228.4" y2="664" stroke="#00c000" stroke-width="1.6"/>
<line x1="223" y1="632.2" x2="233.8" y2="632.2" stroke="#00c000" stroke-width="1.6"/>
<line x1="223" y1="664" x2="233.8" y2="664" stroke="#00c000" stroke-width="1.6"/>
<line x1="287.5" y1="631.3" x2="287.5" y2="657" stroke="#00c000" stroke-width="1.6"/>
<line x1="282.1" y1="631.3" x2="292.9" y2="631.3" stroke="#00c000" stroke-width="1.6"/>
<line x1="282.1" y1="657" x2="292.9" y2="657" stroke="#00c000" stroke-width="1.6"/>
<line x1="346.3" y1="641.5" x2="346.3" y2="672" stroke="#00c000" stroke-width="1.6"/>
<line x1="340.9" y1="641.5" x2="351.7" y2="641.5" stroke="#00c000" stroke-width="1.6"/>
<line x1="340.9" y1="672" x2="351.7" y2="672" stroke="#00c000" stroke-width="1.6"/>
<polyline points="110.5,607.7 169.4,635 228.4,648.9 287.5,644.3 346.3,656.9" fill="none" stroke="#00c000" stroke-width="2.7" stroke-linejoin="round"/>
<circle cx="110.5" cy="607.7" r="5.3" fill="#00c000"/>
<circle cx="169.4" cy="635" r="5.3" fill="#00c000"/>
<circle cx="228.4" cy="648.9" r="5.3" fill="#00c000"/>
<circle cx="287.5" cy="644.3" r="5.3" fill="#00c000"/>
<circle cx="346.3" cy="656.9" r="5.3" fill="#00c000"/>
<line x1="169.4" y1="636" x2="169.4" y2="648" stroke="#ff0000" stroke-width="1.6"/>
<line x1="164" y1="636" x2="174.8" y2="636" stroke="#ff0000" stroke-width="1.6"/>
<line x1="164" y1="648" x2="174.8" y2="648" stroke="#ff0000" stroke-width="1.6"/>
<line x1="228.4" y1="655" x2="228.4" y2="668" stroke="#ff0000" stroke-width="1.6"/>
<line x1="223" y1="655" x2="233.8" y2="655" stroke="#ff0000" stroke-width="1.6"/>
<line x1="223" y1="668" x2="233.8" y2="668" stroke="#ff0000" stroke-width="1.6"/>
<line x1="287.5" y1="650" x2="287.5" y2="671" stroke="#ff0000" stroke-width="1.6"/>
<line x1="282.1" y1="650" x2="292.9" y2="650" stroke="#ff0000" stroke-width="1.6"/>
<line x1="282.1" y1="671" x2="292.9" y2="671" stroke="#ff0000" stroke-width="1.6"/>
<line x1="346.3" y1="642" x2="346.3" y2="655" stroke="#ff0000" stroke-width="1.6"/>
<line x1="340.9" y1="642" x2="351.7" y2="642" stroke="#ff0000" stroke-width="1.6"/>
<line x1="340.9" y1="655" x2="351.7" y2="655" stroke="#ff0000" stroke-width="1.6"/>
<polyline points="110.5,607.7 169.4,641.5 228.4,661 287.5,660 346.3,648.3" fill="none" stroke="#ff0000" stroke-width="2.7" stroke-linejoin="round"/>
<circle cx="110.5" cy="607.7" r="5.3" fill="#ff0000"/>
<circle cx="169.4" cy="641.5" r="5.3" fill="#ff0000"/>
<circle cx="228.4" cy="661" r="5.3" fill="#ff0000"/>
<circle cx="287.5" cy="660" r="5.3" fill="#ff0000"/>
<circle cx="346.3" cy="648.3" r="5.3" fill="#ff0000"/>
<line x1="169.4" y1="627" x2="169.4" y2="643" stroke="#000000" stroke-width="1.6"/>
<line x1="164" y1="627" x2="174.8" y2="627" stroke="#000000" stroke-width="1.6"/>
<line x1="164" y1="643" x2="174.8" y2="643" stroke="#000000" stroke-width="1.6"/>
<line x1="228.4" y1="656.3" x2="228.4" y2="671.7" stroke="#000000" stroke-width="1.6"/>
<line x1="223" y1="656.3" x2="233.8" y2="656.3" stroke="#000000" stroke-width="1.6"/>
<line x1="223" y1="671.7" x2="233.8" y2="671.7" stroke="#000000" stroke-width="1.6"/>
<line x1="287.5" y1="650" x2="287.5" y2="668" stroke="#000000" stroke-width="1.6"/>
<line x1="282.1" y1="650" x2="292.9" y2="650" stroke="#000000" stroke-width="1.6"/>
<line x1="282.1" y1="668" x2="292.9" y2="668" stroke="#000000" stroke-width="1.6"/>
<line x1="346.3" y1="656.3" x2="346.3" y2="672.5" stroke="#000000" stroke-width="1.6"/>
<line x1="340.9" y1="656.3" x2="351.7" y2="656.3" stroke="#000000" stroke-width="1.6"/>
<line x1="340.9" y1="672.5" x2="351.7" y2="672.5" stroke="#000000" stroke-width="1.6"/>
<polyline points="110.5,607.7 169.4,635 228.4,663.7 287.5,660.4 346.3,664.7" fill="none" stroke="#000000" stroke-width="2.7" stroke-linejoin="round"/>
<circle cx="110.5" cy="607.7" r="5.3" fill="#000000"/>
<circle cx="169.4" cy="635" r="5.3" fill="#000000"/>
<circle cx="228.4" cy="663.7" r="5.3" fill="#000000"/>
<circle cx="287.5" cy="660.4" r="5.3" fill="#000000"/>
<circle cx="346.3" cy="664.7" r="5.3" fill="#000000"/>
<text x="354.5" y="625.3" font-size="16.2" fill="#2a2af0">-0.6%</text>
<text x="358.4" y="648" font-size="16.2" fill="#ff1a1a">-1.9%</text>
<text x="358.4" y="661.3" font-size="16.2" fill="#8c8c8c">-2.0%</text>
<text x="358.4" y="675.8" font-size="16.2" fill="#1a8c1a">-2.3%</text>
<text x="358.4" y="690.3" font-size="16.2">-2.6%</text>
<line x1="580.3" y1="602.1" x2="580.3" y2="870.1" stroke="#000" stroke-width="2.6"/>
<line x1="569" y1="868.6" x2="895" y2="868.6" stroke="#000" stroke-width="3"/>
<line x1="569.3" y1="868.6" x2="580.3" y2="868.6" stroke="#000" stroke-width="2.6"/>
<text x="558.1" y="876.5" font-size="21" text-anchor="end" font-weight="bold">10</text>
<text x="559.3" y="870.4" font-size="13.8" font-weight="bold">0</text>
<line x1="569.3" y1="824.25" x2="580.3" y2="824.25" stroke="#000" stroke-width="2.6"/>
<text x="563.8" y="830.25" font-size="15" text-anchor="end" font-weight="bold" textLength="29.8" lengthAdjust="spacingAndGlyphs">LOD</text>
<line x1="569.3" y1="779.9" x2="580.3" y2="779.9" stroke="#000" stroke-width="2.6"/>
<text x="558.1" y="787.8" font-size="21" text-anchor="end" font-weight="bold">10</text>
<text x="559.3" y="781.7" font-size="13.8" font-weight="bold">2</text>
<line x1="569.3" y1="735.55" x2="580.3" y2="735.55" stroke="#000" stroke-width="2.6"/>
<text x="558.1" y="743.45" font-size="21" text-anchor="end" font-weight="bold">10</text>
<text x="559.3" y="737.35" font-size="13.8" font-weight="bold">3</text>
<line x1="569.3" y1="691.2" x2="580.3" y2="691.2" stroke="#000" stroke-width="2.6"/>
<text x="558.1" y="699.1" font-size="21" text-anchor="end" font-weight="bold">10</text>
<text x="559.3" y="693" font-size="13.8" font-weight="bold">4</text>
<line x1="569.3" y1="646.85" x2="580.3" y2="646.85" stroke="#000" stroke-width="2.6"/>
<text x="558.1" y="654.75" font-size="21" text-anchor="end" font-weight="bold">10</text>
<text x="559.3" y="648.65" font-size="13.8" font-weight="bold">5</text>
<line x1="569.3" y1="602.5" x2="580.3" y2="602.5" stroke="#000" stroke-width="2.6"/>
<text x="558.1" y="610.4" font-size="21" text-anchor="end" font-weight="bold">10</text>
<text x="559.3" y="604.3" font-size="13.8" font-weight="bold">6</text>
<line x1="656.4" y1="868.6" x2="656.4" y2="879.6" stroke="#000" stroke-width="3"/>
<text x="656.4" y="903.4" font-size="22.5" text-anchor="middle" font-weight="bold">Lung</text>
<line x1="817.6" y1="868.6" x2="817.6" y2="879.6" stroke="#000" stroke-width="3"/>
<text x="817.6" y="903.4" font-size="22.5" text-anchor="middle" font-weight="bold">NT</text>
<text x="514.6" y="735.3" font-size="23.3" text-anchor="middle" font-weight="bold" transform="rotate(-90 514.6 735.3)">Virus titer (pfu/ml)</text>
<text x="736.9" y="499" font-size="25" text-anchor="middle" font-weight="bold">Omicron BA.1</text>
<text x="483.3" y="496.6" font-size="42">E</text>
<rect x="590.8" y="646.3" width="17" height="222.3" fill="#000000" stroke="#000" stroke-width="2.5"/>
<line x1="599.3" y1="646.3" x2="599.3" y2="630.7" stroke="#000" stroke-width="1.5"/>
<line x1="594.8" y1="630.7" x2="603.8" y2="630.7" stroke="#000" stroke-width="1.5"/>
<circle cx="599.5" cy="630.7" r="3.7" fill="#fff" stroke="#000" stroke-width="1.3"/>
<circle cx="594.8" cy="646.3" r="3.7" fill="#fff" stroke="#000" stroke-width="1.3"/>
<circle cx="604.2" cy="646.3" r="3.7" fill="#fff" stroke="#000" stroke-width="1.3"/>
<circle cx="599.5" cy="676" r="3.7" fill="#fff" stroke="#000" stroke-width="1.3"/>
<rect x="619.6" y="631.4" width="17" height="237.2" fill="#a3a3a8" stroke="#000" stroke-width="2.5"/>
<line x1="628.1" y1="631.4" x2="628.1" y2="620.6" stroke="#000" stroke-width="1.5"/>
<line x1="623.6" y1="620.6" x2="632.6" y2="620.6" stroke="#000" stroke-width="1.5"/>
<circle cx="627.7" cy="616.2" r="3.7" fill="none" stroke="#000" stroke-width="1.3"/>
<circle cx="627.7" cy="632.5" r="3.7" fill="none" stroke="#000" stroke-width="1.3"/>
<circle cx="623" cy="646.3" r="3.7" fill="none" stroke="#000" stroke-width="1.3"/>
<circle cx="634" cy="646.3" r="3.7" fill="none" stroke="#000" stroke-width="1.3"/>
<rect x="648.2" y="673" width="17" height="195.6" fill="#00c000" stroke="#000" stroke-width="2.5"/>
<line x1="656.7" y1="673" x2="656.7" y2="665" stroke="#000" stroke-width="1.5"/>
<line x1="652.2" y1="665" x2="661.2" y2="665" stroke="#000" stroke-width="1.5"/>
<circle cx="656.4" cy="660.4" r="3.7" fill="none" stroke="#000" stroke-width="1.3"/>
<circle cx="652" cy="675.2" r="3.7" fill="none" stroke="#000" stroke-width="1.3"/>
<circle cx="661" cy="675.2" r="3.7" fill="none" stroke="#000" stroke-width="1.3"/>
<circle cx="656.4" cy="688.6" r="3.7" fill="none" stroke="#000" stroke-width="1.3"/>
<rect x="677.1" y="731.7" width="17" height="136.9" fill="#8080ff" stroke="#000" stroke-width="2.5"/>
<line x1="685.6" y1="731.7" x2="685.6" y2="722" stroke="#000" stroke-width="1.5"/>
<line x1="681.1" y1="722" x2="690.1" y2="722" stroke="#000" stroke-width="1.5"/>
<circle cx="679.5" cy="719.8" r="3.7" fill="none" stroke="#000" stroke-width="1.3"/>
<circle cx="684.8" cy="719.8" r="3.7" fill="none" stroke="#000" stroke-width="1.3"/>
<circle cx="690.5" cy="719.8" r="3.7" fill="none" stroke="#000" stroke-width="1.3"/>
<circle cx="682.6" cy="735.6" r="3.7" fill="none" stroke="#000" stroke-width="1.3"/>
<circle cx="687.4" cy="735.6" r="3.7" fill="none" stroke="#000" stroke-width="1.3"/>
<circle cx="682.6" cy="749.3" r="3.7" fill="none" stroke="#000" stroke-width="1.3"/>
<circle cx="687.4" cy="749.3" r="3.7" fill="none" stroke="#000" stroke-width="1.3"/>
<circle cx="684.8" cy="764.2" r="3.7" fill="none" stroke="#000" stroke-width="1.3"/>
<rect x="705.6" y="825" width="17" height="43.6" fill="#ff0000" stroke="#000" stroke-width="2.5"/>
<circle cx="708.7" cy="824.25" r="3.7" fill="none" stroke="#000" stroke-width="1.3"/>
<circle cx="712.3" cy="824.25" r="3.7" fill="none" stroke="#000" stroke-width="1.3"/>
<circle cx="715.9" cy="824.25" r="3.7" fill="none" stroke="#000" stroke-width="1.3"/>
<circle cx="719.5" cy="824.25" r="3.7" fill="none" stroke="#000" stroke-width="1.3"/>
<rect x="753" y="698.5" width="17" height="170.1" fill="#000000" stroke="#000" stroke-width="2.5"/>
<line x1="761.5" y1="698.5" x2="761.5" y2="691.1" stroke="#000" stroke-width="1.5"/>
<line x1="757" y1="691.1" x2="766" y2="691.1" stroke="#000" stroke-width="1.5"/>
<circle cx="756.4" cy="691.1" r="3.7" fill="#fff" stroke="#000" stroke-width="1.3"/>
<circle cx="766.1" cy="691.1" r="3.7" fill="#fff" stroke="#000" stroke-width="1.3"/>
<circle cx="761" cy="705.6" r="3.7" fill="#fff" stroke="#000" stroke-width="1.3"/>
<circle cx="761" cy="720" r="3.7" fill="#fff" stroke="#000" stroke-width="1.3"/>
<rect x="781.1" y="700.7" width="17" height="167.9" fill="#a3a3a8" stroke="#000" stroke-width="2.5"/>
<line x1="789.6" y1="700.7" x2="789.6" y2="691.1" stroke="#000" stroke-width="1.5"/>
<line x1="785.1" y1="691.1" x2="794.1" y2="691.1" stroke="#000" stroke-width="1.5"/>
<circle cx="784.6" cy="691.1" r="3.7" fill="none" stroke="#000" stroke-width="1.3"/>
<circle cx="793.7" cy="691.1" r="3.7" fill="none" stroke="#000" stroke-width="1.3"/>
<circle cx="784.1" cy="719.8" r="3.7" fill="none" stroke="#000" stroke-width="1.3"/>
<circle cx="794.9" cy="719.8" r="3.7" fill="none" stroke="#000" stroke-width="1.3"/>
<rect x="809.7" y="702.4" width="17" height="166.2" fill="#00c000" stroke="#000" stroke-width="2.5"/>
<line x1="818.2" y1="702.4" x2="818.2" y2="691.1" stroke="#000" stroke-width="1.5"/>
<line x1="813.7" y1="691.1" x2="822.7" y2="691.1" stroke="#000" stroke-width="1.5"/>
<circle cx="812.8" cy="691.1" r="3.7" fill="none" stroke="#000" stroke-width="1.3"/>
<circle cx="822.4" cy="691.1" r="3.7" fill="none" stroke="#000" stroke-width="1.3"/>
<circle cx="813" cy="734.2" r="3.7" fill="none" stroke="#000" stroke-width="1.3"/>
<circle cx="823.1" cy="734.2" r="3.7" fill="none" stroke="#000" stroke-width="1.3"/>
<rect x="838.1" y="807.2" width="17" height="61.4" fill="#8080ff" stroke="#000" stroke-width="2.5"/>
<line x1="846.6" y1="807.2" x2="846.6" y2="790.4" stroke="#000" stroke-width="1.5"/>
<line x1="842.1" y1="790.4" x2="851.1" y2="790.4" stroke="#000" stroke-width="1.5"/>
<circle cx="846.3" cy="778.8" r="3.7" fill="none" stroke="#000" stroke-width="1.3"/>
<circle cx="846.3" cy="807.2" r="3.7" fill="none" stroke="#000" stroke-width="1.3"/>
<circle cx="842" cy="824.1" r="3.7" fill="none" stroke="#000" stroke-width="1.3"/>
<circle cx="847" cy="824.1" r="3.7" fill="none" stroke="#000" stroke-width="1.3"/>
<circle cx="850.9" cy="824.1" r="3.7" fill="none" stroke="#000" stroke-width="1.3"/>
<rect x="866.8" y="811.5" width="17" height="57.1" fill="#ff0000" stroke="#000" stroke-width="2.5"/>
<line x1="875.3" y1="811.5" x2="875.3" y2="798.4" stroke="#000" stroke-width="1.5"/>
<line x1="870.8" y1="798.4" x2="879.8" y2="798.4" stroke="#000" stroke-width="1.5"/>
<circle cx="875.3" cy="793.9" r="3.7" fill="none" stroke="#000" stroke-width="1.3"/>
<circle cx="871" cy="824.1" r="3.7" fill="none" stroke="#000" stroke-width="1.3"/>
<circle cx="876" cy="824.1" r="3.7" fill="none" stroke="#000" stroke-width="1.3"/>
<circle cx="879.8" cy="824.1" r="3.7" fill="none" stroke="#000" stroke-width="1.3"/>
<line x1="587" y1="824.25" x2="893" y2="824.25" stroke="#000" stroke-width="2.6" stroke-linecap="round" stroke-dasharray="0 8.8"/>
<path d="M598.2 532.1V528.5H714V532.1" fill="none" stroke="#000" stroke-width="1.4"/>
<text x="599.2" y="522.9" font-size="15.5">****p&lt;0.0001</text>
<path d="M599.2 556.1V552.5H687.1V556.1" fill="none" stroke="#000" stroke-width="1.4"/>
<text x="599.2" y="549" font-size="15.5">****p&lt;0.0001</text>
<path d="M600.8 581.1V577.5H651.4V581.1" fill="none" stroke="#000" stroke-width="1.4"/>
<text x="580.8" y="571.3" font-size="15.5">ns;p=0.0715</text>
<path d="M600.8 604V600.4H627.2V604" fill="none" stroke="#000" stroke-width="1.4"/>
<text x="580.8" y="596" font-size="15.5">ns;p=0.4281</text>
<path d="M759.6 605.3V601.7H875.4V605.3" fill="none" stroke="#000" stroke-width="1.4"/>
<text x="760.4" y="595.5" font-size="15.5">****p&lt;0.0001</text>
<path d="M760.8 629.2V625.6H848.3V629.2" fill="none" stroke="#000" stroke-width="1.4"/>
<text x="760.4" y="621.4" font-size="15.5">****p&lt;0.0001</text>
<path d="M762.2 653.9V650.3H812.8V653.9" fill="none" stroke="#000" stroke-width="1.4"/>
<text x="742.1" y="644" font-size="15.5">ns;p=0.7503</text>
<path d="M762.2 676.6V673H788.6V676.6" fill="none" stroke="#000" stroke-width="1.4"/>
<text x="742.1" y="669" font-size="15.5">ns;p=0.9930</text>
<line x1="1118" y1="637" x2="1129.5" y2="637" stroke="#000" stroke-width="3"/>
<text x="1115.3" y="644.8" font-size="20.3" text-anchor="end" font-weight="bold">100</text>
<line x1="1118" y1="699" x2="1129.5" y2="699" stroke="#000" stroke-width="3"/>
<text x="1115.3" y="706.8" font-size="20.3" text-anchor="end" font-weight="bold">95</text>
<line x1="1118" y1="761" x2="1129.5" y2="761" stroke="#000" stroke-width="3"/>
<text x="1115.3" y="768.8" font-size="20.3" text-anchor="end" font-weight="bold">90</text>
<line x1="1118" y1="823.1" x2="1129.5" y2="823.1" stroke="#000" stroke-width="3"/>
<text x="1115.3" y="830.9" font-size="20.3" text-anchor="end" font-weight="bold">85</text>
<line x1="1129.5" y1="585.7" x2="1129.5" y2="824.6" stroke="#000" stroke-width="3"/>
<line x1="1118" y1="823.1" x2="1445.8" y2="823.1" stroke="#000" stroke-width="3"/>
<line x1="1168.3" y1="823.1" x2="1168.3" y2="834.1" stroke="#000" stroke-width="3"/>
<text x="1168.3" y="853.9" font-size="19" text-anchor="middle" font-weight="bold">0</text>
<line x1="1227.8" y1="823.1" x2="1227.8" y2="834.1" stroke="#000" stroke-width="3"/>
<text x="1227.8" y="853.9" font-size="19" text-anchor="middle" font-weight="bold">1</text>
<line x1="1286.7" y1="823.1" x2="1286.7" y2="834.1" stroke="#000" stroke-width="3"/>
<text x="1286.7" y="853.9" font-size="19" text-anchor="middle" font-weight="bold">2</text>
<line x1="1345.9" y1="823.1" x2="1345.9" y2="834.1" stroke="#000" stroke-width="3"/>
<text x="1345.9" y="853.9" font-size="19" text-anchor="middle" font-weight="bold">3</text>
<line x1="1404.8" y1="823.1" x2="1404.8" y2="834.1" stroke="#000" stroke-width="3"/>
<text x="1404.8" y="853.9" font-size="19" text-anchor="middle" font-weight="bold">4</text>
<text x="1286.7" y="887.3" font-size="22.85" text-anchor="middle" font-weight="bold">Days post infection</text>
<text x="1072.6" y="705.7" font-size="20.3" text-anchor="middle" font-weight="bold" transform="rotate(-90 1072.6 705.7)">Body weight (%)</text>
<text x="1287.1" y="500.5" font-size="25" text-anchor="middle" font-weight="bold">Omicron BA.2</text>
<text x="1033.5" y="495.5" font-size="42">F</text>
<line x1="1136" y1="637" x2="1446" y2="637" stroke="#000" stroke-width="2.6" stroke-linecap="round" stroke-dasharray="0 8.8"/>
<line x1="1227.8" y1="648" x2="1227.8" y2="656" stroke="#a0a0a4" stroke-width="1.6"/>
<line x1="1222.4" y1="648" x2="1233.2" y2="648" stroke="#a0a0a4" stroke-width="1.6"/>
<line x1="1222.4" y1="656" x2="1233.2" y2="656" stroke="#a0a0a4" stroke-width="1.6"/>
<line x1="1286.7" y1="662" x2="1286.7" y2="670" stroke="#a0a0a4" stroke-width="1.6"/>
<line x1="1281.3" y1="662" x2="1292.1" y2="662" stroke="#a0a0a4" stroke-width="1.6"/>
<line x1="1281.3" y1="670" x2="1292.1" y2="670" stroke="#a0a0a4" stroke-width="1.6"/>
<line x1="1345.9" y1="696" x2="1345.9" y2="705" stroke="#a0a0a4" stroke-width="1.6"/>
<line x1="1340.5" y1="696" x2="1351.3" y2="696" stroke="#a0a0a4" stroke-width="1.6"/>
<line x1="1340.5" y1="705" x2="1351.3" y2="705" stroke="#a0a0a4" stroke-width="1.6"/>
<line x1="1404.8" y1="708" x2="1404.8" y2="716" stroke="#a0a0a4" stroke-width="1.6"/>
<line x1="1399.4" y1="708" x2="1410.2" y2="708" stroke="#a0a0a4" stroke-width="1.6"/>
<line x1="1399.4" y1="716" x2="1410.2" y2="716" stroke="#a0a0a4" stroke-width="1.6"/>
<polyline points="1168.3,637 1227.8,652 1286.7,666.1 1345.9,700.3 1404.8,712.2" fill="none" stroke="#a0a0a4" stroke-width="2.7" stroke-linejoin="round"/>
<circle cx="1168.3" cy="637" r="5.3" fill="#a0a0a4"/>
<circle cx="1227.8" cy="652" r="5.3" fill="#a0a0a4"/>
<circle cx="1286.7" cy="666.1" r="5.3" fill="#a0a0a4"/>
<circle cx="1345.9" cy="700.3" r="5.3" fill="#a0a0a4"/>
<circle cx="1404.8" cy="712.2" r="5.3" fill="#a0a0a4"/>
<line x1="1227.8" y1="651" x2="1227.8" y2="658" stroke="#00c000" stroke-width="1.6"/>
<line x1="1222.4" y1="651" x2="1233.2" y2="651" stroke="#00c000" stroke-width="1.6"/>
<line x1="1222.4" y1="658" x2="1233.2" y2="658" stroke="#00c000" stroke-width="1.6"/>
<line x1="1286.7" y1="672.5" x2="1286.7" y2="683" stroke="#00c000" stroke-width="1.6"/>
<line x1="1281.3" y1="672.5" x2="1292.1" y2="672.5" stroke="#00c000" stroke-width="1.6"/>
<line x1="1281.3" y1="683" x2="1292.1" y2="683" stroke="#00c000" stroke-width="1.6"/>
<line x1="1345.9" y1="666.6" x2="1345.9" y2="695.7" stroke="#00c000" stroke-width="1.6"/>
<line x1="1340.5" y1="666.6" x2="1351.3" y2="666.6" stroke="#00c000" stroke-width="1.6"/>
<line x1="1340.5" y1="695.7" x2="1351.3" y2="695.7" stroke="#00c000" stroke-width="1.6"/>
<line x1="1404.8" y1="669.4" x2="1404.8" y2="695.7" stroke="#00c000" stroke-width="1.6"/>
<line x1="1399.4" y1="669.4" x2="1410.2" y2="669.4" stroke="#00c000" stroke-width="1.6"/>
<line x1="1399.4" y1="695.7" x2="1410.2" y2="695.7" stroke="#00c000" stroke-width="1.6"/>
<polyline points="1168.3,637 1227.8,654.7 1286.7,677.5 1345.9,681.3 1404.8,683" fill="none" stroke="#00c000" stroke-width="2.7" stroke-linejoin="round"/>
<circle cx="1168.3" cy="637" r="5.3" fill="#00c000"/>
<circle cx="1227.8" cy="654.7" r="5.3" fill="#00c000"/>
<circle cx="1286.7" cy="677.5" r="5.3" fill="#00c000"/>
<circle cx="1345.9" cy="681.3" r="5.3" fill="#00c000"/>
<circle cx="1404.8" cy="683" r="5.3" fill="#00c000"/>
<line x1="1227.8" y1="644" x2="1227.8" y2="650" stroke="#ff0000" stroke-width="1.6"/>
<line x1="1222.4" y1="644" x2="1233.2" y2="644" stroke="#ff0000" stroke-width="1.6"/>
<line x1="1222.4" y1="650" x2="1233.2" y2="650" stroke="#ff0000" stroke-width="1.6"/>
<line x1="1286.7" y1="653.5" x2="1286.7" y2="663.6" stroke="#ff0000" stroke-width="1.6"/>
<line x1="1281.3" y1="653.5" x2="1292.1" y2="653.5" stroke="#ff0000" stroke-width="1.6"/>
<line x1="1281.3" y1="663.6" x2="1292.1" y2="663.6" stroke="#ff0000" stroke-width="1.6"/>
<line x1="1345.9" y1="652" x2="1345.9" y2="663" stroke="#ff0000" stroke-width="1.6"/>
<line x1="1340.5" y1="652" x2="1351.3" y2="652" stroke="#ff0000" stroke-width="1.6"/>
<line x1="1340.5" y1="663" x2="1351.3" y2="663" stroke="#ff0000" stroke-width="1.6"/>
<line x1="1404.8" y1="641.6" x2="1404.8" y2="655.3" stroke="#ff0000" stroke-width="1.6"/>
<line x1="1399.4" y1="641.6" x2="1410.2" y2="641.6" stroke="#ff0000" stroke-width="1.6"/>
<line x1="1399.4" y1="655.3" x2="1410.2" y2="655.3" stroke="#ff0000" stroke-width="1.6"/>
<polyline points="1168.3,637 1227.8,647.2 1286.7,658.5 1345.9,657.8 1404.8,648.9" fill="none" stroke="#ff0000" stroke-width="2.7" stroke-linejoin="round"/>
<circle cx="1168.3" cy="637" r="5.3" fill="#ff0000"/>
<circle cx="1227.8" cy="647.2" r="5.3" fill="#ff0000"/>
<circle cx="1286.7" cy="658.5" r="5.3" fill="#ff0000"/>
<circle cx="1345.9" cy="657.8" r="5.3" fill="#ff0000"/>
<circle cx="1404.8" cy="648.9" r="5.3" fill="#ff0000"/>
<line x1="1227.8" y1="647" x2="1227.8" y2="656" stroke="#000000" stroke-width="1.6"/>
<line x1="1222.4" y1="647" x2="1233.2" y2="647" stroke="#000000" stroke-width="1.6"/>
<line x1="1222.4" y1="656" x2="1233.2" y2="656" stroke="#000000" stroke-width="1.6"/>
<line x1="1286.7" y1="662" x2="1286.7" y2="673" stroke="#000000" stroke-width="1.6"/>
<line x1="1281.3" y1="662" x2="1292.1" y2="662" stroke="#000000" stroke-width="1.6"/>
<line x1="1281.3" y1="673" x2="1292.1" y2="673" stroke="#000000" stroke-width="1.6"/>
<line x1="1345.9" y1="687.1" x2="1345.9" y2="720" stroke="#000000" stroke-width="1.6"/>
<line x1="1340.5" y1="687.1" x2="1351.3" y2="687.1" stroke="#000000" stroke-width="1.6"/>
<line x1="1340.5" y1="720" x2="1351.3" y2="720" stroke="#000000" stroke-width="1.6"/>
<line x1="1404.8" y1="694" x2="1404.8" y2="742.5" stroke="#000000" stroke-width="1.6"/>
<line x1="1399.4" y1="694" x2="1410.2" y2="694" stroke="#000000" stroke-width="1.6"/>
<line x1="1399.4" y1="742.5" x2="1410.2" y2="742.5" stroke="#000000" stroke-width="1.6"/>
<polyline points="1168.3,637 1227.8,651.5 1286.7,667.4 1345.9,703.3 1404.8,718" fill="none" stroke="#000000" stroke-width="2.7" stroke-linejoin="round"/>
<circle cx="1168.3" cy="637" r="5.3" fill="#000000"/>
<circle cx="1227.8" cy="651.5" r="5.3" fill="#000000"/>
<circle cx="1286.7" cy="667.4" r="5.3" fill="#000000"/>
<circle cx="1345.9" cy="703.3" r="5.3" fill="#000000"/>
<circle cx="1404.8" cy="718" r="5.3" fill="#000000"/>
<text x="1415.2" y="656" font-size="16.2" fill="#ff1a1a">-0.9%</text>
<text x="1415.2" y="688.1" font-size="16.2" fill="#1a8c1a">-3.7%</text>
<text x="1415.2" y="711.2" font-size="16.2" fill="#8c8c8c">-6.2%</text>
<text x="1415.2" y="725.1" font-size="16.2">-6.5%</text>
<line x1="1650.9" y1="602.7" x2="1650.9" y2="866.1" stroke="#000" stroke-width="2.6"/>
<line x1="1640" y1="864.6" x2="1914" y2="864.6" stroke="#000" stroke-width="3"/>
<line x1="1639.9" y1="864.6" x2="1650.9" y2="864.6" stroke="#000" stroke-width="2.6"/>
<text x="1628.1" y="872.5" font-size="21" text-anchor="end" font-weight="bold">10</text>
<text x="1629.3" y="866.4" font-size="13.8" font-weight="bold">0</text>
<line x1="1639.9" y1="827.17" x2="1650.9" y2="827.17" stroke="#000" stroke-width="2.6"/>
<text x="1635.3" y="833.17" font-size="15" text-anchor="end" font-weight="bold" textLength="30.3" lengthAdjust="spacingAndGlyphs">LOD</text>
<line x1="1639.9" y1="789.74" x2="1650.9" y2="789.74" stroke="#000" stroke-width="2.6"/>
<text x="1628.1" y="797.64" font-size="21" text-anchor="end" font-weight="bold">10</text>
<text x="1629.3" y="791.54" font-size="13.8" font-weight="bold">2</text>
<line x1="1639.9" y1="752.31" x2="1650.9" y2="752.31" stroke="#000" stroke-width="2.6"/>
<text x="1628.1" y="760.21" font-size="21" text-anchor="end" font-weight="bold">10</text>
<text x="1629.3" y="754.11" font-size="13.8" font-weight="bold">3</text>
<line x1="1639.9" y1="714.88" x2="1650.9" y2="714.88" stroke="#000" stroke-width="2.6"/>
<text x="1628.1" y="722.78" font-size="21" text-anchor="end" font-weight="bold">10</text>
<text x="1629.3" y="716.68" font-size="13.8" font-weight="bold">4</text>
<line x1="1639.9" y1="677.45" x2="1650.9" y2="677.45" stroke="#000" stroke-width="2.6"/>
<text x="1628.1" y="685.35" font-size="21" text-anchor="end" font-weight="bold">10</text>
<text x="1629.3" y="679.25" font-size="13.8" font-weight="bold">5</text>
<line x1="1639.9" y1="640.02" x2="1650.9" y2="640.02" stroke="#000" stroke-width="2.6"/>
<text x="1628.1" y="647.92" font-size="21" text-anchor="end" font-weight="bold">10</text>
<text x="1629.3" y="641.82" font-size="13.8" font-weight="bold">6</text>
<line x1="1639.9" y1="602.59" x2="1650.9" y2="602.59" stroke="#000" stroke-width="2.6"/>
<text x="1628.1" y="610.49" font-size="21" text-anchor="end" font-weight="bold">10</text>
<text x="1629.3" y="604.39" font-size="13.8" font-weight="bold">7</text>
<line x1="1713.7" y1="864.6" x2="1713.7" y2="875.6" stroke="#000" stroke-width="3"/>
<text x="1713.7" y="898.8" font-size="22.5" text-anchor="middle" font-weight="bold">Lung</text>
<line x1="1849.6" y1="864.6" x2="1849.6" y2="875.6" stroke="#000" stroke-width="3"/>
<text x="1849.6" y="898.8" font-size="22.5" text-anchor="middle" font-weight="bold">NT</text>
<text x="1585.3" y="734.1" font-size="23.3" text-anchor="middle" font-weight="bold" transform="rotate(-90 1585.3 734.1)">Virus titer (pfu/ml)</text>
<text x="1781.6" y="499.5" font-size="25" text-anchor="middle" font-weight="bold">Omicron BA.2</text>
<text x="1509" y="495.5" font-size="42">G</text>
<rect x="1661.8" y="660.8" width="17" height="203.8" fill="#000000" stroke="#000" stroke-width="2.5"/>
<line x1="1670.3" y1="660.8" x2="1670.3" y2="652.4" stroke="#000" stroke-width="1.5"/>
<line x1="1665.8" y1="652.4" x2="1674.8" y2="652.4" stroke="#000" stroke-width="1.5"/>
<circle cx="1664.2" cy="652.4" r="3.7" fill="#fff" stroke="#000" stroke-width="1.3"/>
<circle cx="1675.7" cy="652.4" r="3.7" fill="#fff" stroke="#000" stroke-width="1.3"/>
<circle cx="1664.2" cy="677.1" r="3.7" fill="#fff" stroke="#000" stroke-width="1.3"/>
<circle cx="1675.7" cy="677.1" r="3.7" fill="#fff" stroke="#000" stroke-width="1.3"/>
<rect x="1690.7" y="650.3" width="17" height="214.3" fill="#a3a3a8" stroke="#000" stroke-width="2.5"/>
<line x1="1699.2" y1="650.3" x2="1699.2" y2="643.6" stroke="#000" stroke-width="1.5"/>
<line x1="1694.7" y1="643.6" x2="1703.7" y2="643.6" stroke="#000" stroke-width="1.5"/>
<circle cx="1699.1" cy="640.3" r="3.7" fill="none" stroke="#000" stroke-width="1.3"/>
<circle cx="1693.9" cy="652.4" r="3.7" fill="none" stroke="#000" stroke-width="1.3"/>
<circle cx="1704.5" cy="652.4" r="3.7" fill="none" stroke="#000" stroke-width="1.3"/>
<circle cx="1699.1" cy="664.5" r="3.7" fill="none" stroke="#000" stroke-width="1.3"/>
<rect x="1719.8" y="725.6" width="17" height="139" fill="#00c000" stroke="#000" stroke-width="2.5"/>
<line x1="1728.3" y1="725.6" x2="1728.3" y2="718" stroke="#000" stroke-width="1.5"/>
<line x1="1723.8" y1="718" x2="1732.8" y2="718" stroke="#000" stroke-width="1.5"/>
<circle cx="1728.4" cy="714.1" r="3.7" fill="none" stroke="#000" stroke-width="1.3"/>
<circle cx="1723.4" cy="726.6" r="3.7" fill="none" stroke="#000" stroke-width="1.3"/>
<circle cx="1733.8" cy="726.6" r="3.7" fill="none" stroke="#000" stroke-width="1.3"/>
<circle cx="1728.3" cy="739.8" r="3.7" fill="none" stroke="#000" stroke-width="1.3"/>
<rect x="1749.4" y="829.6" width="17" height="35" fill="#ff0000" stroke="#000" stroke-width="2.5"/>
<circle cx="1752.5" cy="827.17" r="3.7" fill="none" stroke="#000" stroke-width="1.3"/>
<circle cx="1756.1" cy="827.17" r="3.7" fill="none" stroke="#000" stroke-width="1.3"/>
<circle cx="1759.7" cy="827.17" r="3.7" fill="none" stroke="#000" stroke-width="1.3"/>
<circle cx="1763.3" cy="827.17" r="3.7" fill="none" stroke="#000" stroke-width="1.3"/>
<rect x="1797.7" y="696.5" width="17" height="168.1" fill="#000000" stroke="#000" stroke-width="2.5"/>
<line x1="1806.2" y1="696.5" x2="1806.2" y2="681.4" stroke="#000" stroke-width="1.5"/>
<line x1="1801.7" y1="681.4" x2="1810.7" y2="681.4" stroke="#000" stroke-width="1.5"/>
<circle cx="1806.2" cy="677" r="3.7" fill="#fff" stroke="#000" stroke-width="1.3"/>
<circle cx="1800.8" cy="714.6" r="3.7" fill="#fff" stroke="#000" stroke-width="1.3"/>
<circle cx="1811.6" cy="714.6" r="3.7" fill="#fff" stroke="#000" stroke-width="1.3"/>
<circle cx="1806.2" cy="726.6" r="3.7" fill="#fff" stroke="#000" stroke-width="1.3"/>
<rect x="1827" y="678.4" width="17" height="186.2" fill="#a3a3a8" stroke="#000" stroke-width="2.5"/>
<circle cx="1829.7" cy="677" r="3.7" fill="none" stroke="#000" stroke-width="1.3"/>
<circle cx="1835.1" cy="677" r="3.7" fill="none" stroke="#000" stroke-width="1.3"/>
<circle cx="1840.6" cy="677" r="3.7" fill="none" stroke="#000" stroke-width="1.3"/>
<circle cx="1835.1" cy="689.3" r="3.7" fill="none" stroke="#000" stroke-width="1.3"/>
<rect x="1856.1" y="732" width="17" height="132.6" fill="#00c000" stroke="#000" stroke-width="2.5"/>
<circle cx="1858.7" cy="726.6" r="3.7" fill="none" stroke="#000" stroke-width="1.3"/>
<circle cx="1864.1" cy="726.6" r="3.7" fill="none" stroke="#000" stroke-width="1.3"/>
<circle cx="1869.5" cy="726.6" r="3.7" fill="none" stroke="#000" stroke-width="1.3"/>
<circle cx="1864.1" cy="764.6" r="3.7" fill="none" stroke="#000" stroke-width="1.3"/>
<rect x="1885.4" y="829.7" width="17" height="34.9" fill="#ff0000" stroke="#000" stroke-width="2.5"/>
<circle cx="1888.5" cy="827.17" r="3.7" fill="none" stroke="#000" stroke-width="1.3"/>
<circle cx="1892.1" cy="827.17" r="3.7" fill="none" stroke="#000" stroke-width="1.3"/>
<circle cx="1895.7" cy="827.17" r="3.7" fill="none" stroke="#000" stroke-width="1.3"/>
<circle cx="1899.3" cy="827.17" r="3.7" fill="none" stroke="#000" stroke-width="1.3"/>
<line x1="1658" y1="827.17" x2="1912" y2="827.17" stroke="#000" stroke-width="2.6" stroke-linecap="round" stroke-dasharray="0 8.8"/>
<path d="M1672.6 579.7V576.1H1760.4V579.7" fill="none" stroke="#000" stroke-width="1.4"/>
<text x="1672.2" y="572.6" font-size="15.5">****p&lt;0.0001</text>
<path d="M1673.6 604.4V600.8H1724.2V604.4" fill="none" stroke="#000" stroke-width="1.4"/>
<text x="1641.9" y="595.4" font-size="15.5">****p&lt;0.0001</text>
<path d="M1673.6 627.2V623.6H1700.4V627.2" fill="none" stroke="#000" stroke-width="1.4"/>
<text x="1653.3" y="619" font-size="15.5">ns;p=0.2411</text>
<path d="M1806.7 616.4V612.8H1894.7V616.4" fill="none" stroke="#000" stroke-width="1.4"/>
<text x="1806.3" y="608.8" font-size="15.5">****p&lt;0.0001</text>
<path d="M1808.4 640.9V637.3H1858.7V640.9" fill="none" stroke="#000" stroke-width="1.4"/>
<text x="1789.2" y="632.1" font-size="15.5">ns;p=0.0560</text>
<path d="M1808.4 663.4V659.8H1834.5V663.4" fill="none" stroke="#000" stroke-width="1.4"/>
<text x="1788.2" y="655.8" font-size="15.5">ns;p=0.0551</text>
</svg>
</body></html>
